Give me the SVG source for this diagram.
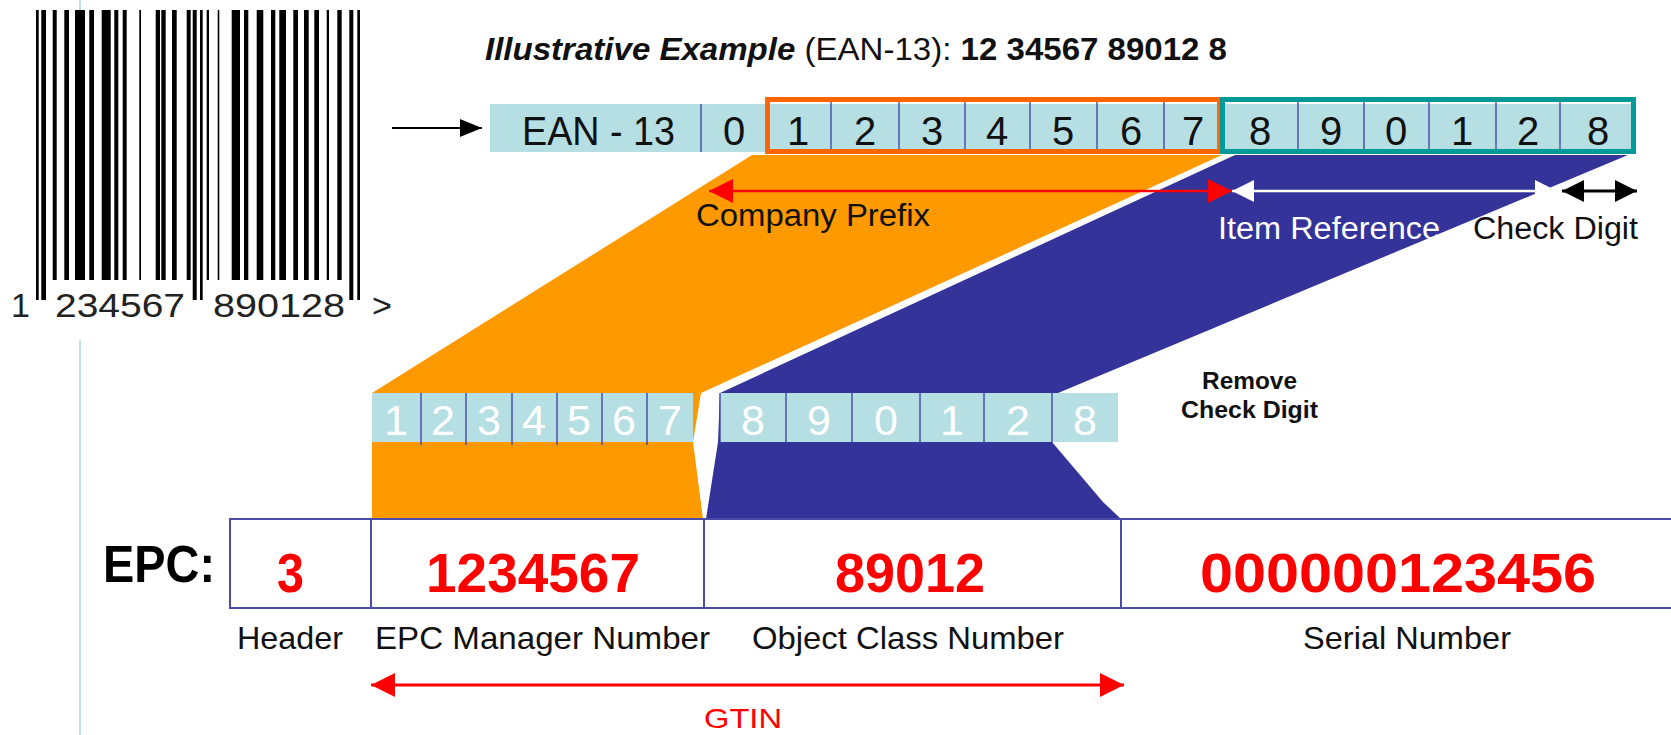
<svg xmlns="http://www.w3.org/2000/svg" width="1671" height="735" viewBox="0 0 1671 735">
<style>
text{font-family:"Liberation Sans",Arial,Helvetica,sans-serif}
.bar{fill:#000}
.cell{fill:#b6dfe3}
.sep{stroke:#3c3ca0;stroke-width:1.3}
.top{font-size:40px;fill:#111;text-anchor:middle}
.low{font-size:43px;fill:#fff;text-anchor:middle}
.red{font-size:55px;font-weight:bold;fill:#ff0000}
.lbl{font-size:32px;fill:#111}
.epc{stroke:#4b4ba8;stroke-width:2;fill:none}
</style>
<defs>
<marker id="hRed" viewBox="0 0 24 24" refX="24" refY="12" markerWidth="24" markerHeight="24" markerUnits="userSpaceOnUse" orient="auto-start-reverse"><path d="M0,0 L24,12 L0,24 Z" fill="#ff0000"/></marker>
<marker id="hWhite" viewBox="0 0 22 22" refX="22" refY="11" markerWidth="22" markerHeight="22" markerUnits="userSpaceOnUse" orient="auto-start-reverse"><path d="M0,0 L22,11 L0,22 Z" fill="#ffffff"/></marker>
<marker id="hBlack" viewBox="0 0 22 22" refX="22" refY="11" markerWidth="22" markerHeight="22" markerUnits="userSpaceOnUse" orient="auto-start-reverse"><path d="M0,0 L22,11 L0,22 Z" fill="#000"/></marker>
<marker id="hBlackS" viewBox="0 0 22 18" refX="22" refY="9" markerWidth="22" markerHeight="18" markerUnits="userSpaceOnUse" orient="auto"><path d="M0,0 L22,9 L0,18 Z" fill="#000"/></marker>
</defs>
<rect width="1671" height="735" fill="#fff"/>
<g id="guide-line" stroke="#a8d8dc" stroke-width="1.5">
<line x1="80" y1="0" x2="80" y2="10"/>
<line x1="80" y1="340" x2="80" y2="735"/>
</g>
<g id="barcode">
<rect class="bar" x="36" y="10" width="2.7" height="290"/>
<rect class="bar" x="41.3" y="10" width="4.7" height="290"/>
<rect class="bar" x="52.7" y="10" width="4" height="270"/>
<rect class="bar" x="64.3" y="10" width="4.7" height="270"/>
<rect class="bar" x="75" y="10" width="10" height="270"/>
<rect class="bar" x="89.3" y="10" width="4.7" height="270"/>
<rect class="bar" x="101.7" y="10" width="9" height="270"/>
<rect class="bar" x="114.3" y="10" width="4" height="270"/>
<rect class="bar" x="122.7" y="10" width="4" height="270"/>
<rect class="bar" x="139.3" y="10" width="1.7" height="270"/>
<rect class="bar" x="155.7" y="10" width="4.3" height="270"/>
<rect class="bar" x="161.3" y="10" width="4.4" height="270"/>
<rect class="bar" x="172" y="10" width="4.7" height="270"/>
<rect class="bar" x="186.7" y="10" width="4" height="270"/>
<rect class="bar" x="192.7" y="10" width="4" height="290"/>
<rect class="bar" x="200" y="10" width="2.7" height="290"/>
<rect class="bar" x="206.7" y="10" width="2.3" height="270"/>
<rect class="bar" x="217.7" y="10" width="1.6" height="270"/>
<rect class="bar" x="231.7" y="10" width="8.3" height="270"/>
<rect class="bar" x="244" y="10" width="4.3" height="270"/>
<rect class="bar" x="256.7" y="10" width="6.6" height="270"/>
<rect class="bar" x="271" y="10" width="4.3" height="270"/>
<rect class="bar" x="279.3" y="10" width="6.7" height="270"/>
<rect class="bar" x="293.3" y="10" width="4.7" height="270"/>
<rect class="bar" x="304" y="10" width="4.7" height="270"/>
<rect class="bar" x="314.3" y="10" width="4.7" height="270"/>
<rect class="bar" x="326.7" y="10" width="2.3" height="270"/>
<rect class="bar" x="337.3" y="10" width="4.4" height="270"/>
<rect class="bar" x="349.3" y="10" width="4" height="290"/>
<rect class="bar" x="357.3" y="10" width="2.7" height="290"/>
<g font-size="34" fill="#222">
<text x="11" y="317">1</text>
<text x="55" y="317" textLength="130" lengthAdjust="spacingAndGlyphs">234567</text>
<text x="213" y="317" textLength="132" lengthAdjust="spacingAndGlyphs">890128</text>
<text x="372" y="317">&gt;</text>
</g>
</g>
<g id="title">
<text x="485" y="60" font-size="31" fill="#111" textLength="742" lengthAdjust="spacingAndGlyphs"><tspan font-weight="bold" font-style="italic">Illustrative Example</tspan> (EAN-13): <tspan font-weight="bold">12 34567 89012 8</tspan></text>
</g>
<g id="mapping-orange">
<polygon points="752,155 1222,155 701,393 693,442 703,519 372,519 372,393" fill="#ff9900"/>
</g>
<g id="mapping-blue">
<polygon points="1235,155 1628,155 1058,393 1052,442 1103,502 1121,519 706,519 718,442 720,393" fill="#333399"/>
</g>
<g id="ean-row">
<rect class="cell" x="490" y="104" width="1146" height="48"/>
<line class="sep" x1="701" y1="104" x2="701" y2="152"/>
<g class="sep">
<line x1="831" y1="102" x2="831" y2="152"/><line x1="899" y1="102" x2="899" y2="152"/><line x1="965" y1="102" x2="965" y2="152"/><line x1="1030" y1="102" x2="1030" y2="152"/><line x1="1097" y1="102" x2="1097" y2="152"/><line x1="1164" y1="102" x2="1164" y2="152"/>
<line x1="1298" y1="102" x2="1298" y2="152"/><line x1="1364" y1="102" x2="1364" y2="152"/><line x1="1429" y1="102" x2="1429" y2="152"/><line x1="1496" y1="102" x2="1496" y2="152"/><line x1="1560" y1="102" x2="1560" y2="152"/>
</g>
<rect x="767.5" y="99.5" width="452" height="52" fill="none" stroke="#ff6600" stroke-width="5"/>
<rect x="1222.5" y="99.5" width="411" height="52" fill="none" stroke="#009999" stroke-width="5"/>
<text x="522" y="145" font-size="40" fill="#111" textLength="153" lengthAdjust="spacingAndGlyphs">EAN - 13</text>
<text class="top" x="734" y="145">0</text>
<text class="top" x="798" y="145">1</text>
<text class="top" x="865" y="145">2</text>
<text class="top" x="932" y="145">3</text>
<text class="top" x="997" y="145">4</text>
<text class="top" x="1063" y="145">5</text>
<text class="top" x="1131" y="145">6</text>
<text class="top" x="1193" y="145">7</text>
<text class="top" x="1260" y="145">8</text>
<text class="top" x="1331" y="145">9</text>
<text class="top" x="1396" y="145">0</text>
<text class="top" x="1462" y="145">1</text>
<text class="top" x="1528" y="145">2</text>
<text class="top" x="1598" y="145">8</text>
</g>
<g id="gtin-row">
<rect class="cell" x="372" y="393" width="321" height="49"/>
<rect class="cell" x="720" y="393" width="398" height="49"/>
<g class="sep">
<line x1="421" y1="393" x2="421" y2="445"/><line x1="466" y1="393" x2="466" y2="445"/><line x1="512" y1="393" x2="512" y2="445"/><line x1="557" y1="393" x2="557" y2="445"/><line x1="602" y1="393" x2="602" y2="445"/><line x1="647" y1="393" x2="647" y2="445"/>
<line x1="720" y1="393" x2="720" y2="445"/><line x1="786" y1="393" x2="786" y2="445"/><line x1="852" y1="393" x2="852" y2="445"/><line x1="920" y1="393" x2="920" y2="445"/><line x1="984" y1="393" x2="984" y2="445"/><line x1="1052" y1="393" x2="1052" y2="445"/>
</g>
<text class="low" x="396" y="435">1</text>
<text class="low" x="443" y="435">2</text>
<text class="low" x="489" y="435">3</text>
<text class="low" x="534" y="435">4</text>
<text class="low" x="579" y="435">5</text>
<text class="low" x="624" y="435">6</text>
<text class="low" x="670" y="435">7</text>
<text class="low" x="753" y="435">8</text>
<text class="low" x="819" y="435">9</text>
<text class="low" x="886" y="435">0</text>
<text class="low" x="952" y="435">1</text>
<text class="low" x="1018" y="435">2</text>
<text class="low" x="1085" y="435">8</text>
</g>
<g id="remove-note">
<text x="1202" y="389" font-size="23" font-weight="bold" fill="#111" textLength="95" lengthAdjust="spacingAndGlyphs">Remove</text>
<text x="1181" y="418" font-size="23" font-weight="bold" fill="#111" textLength="137" lengthAdjust="spacingAndGlyphs">Check Digit</text>
</g>
<g id="epc">
<line class="epc" x1="230" y1="519" x2="1671" y2="519"/>
<line class="epc" x1="230" y1="608" x2="1671" y2="608"/>
<line class="epc" x1="230" y1="518" x2="230" y2="609"/>
<line class="epc" x1="371" y1="519" x2="371" y2="608"/>
<line class="epc" x1="704" y1="519" x2="704" y2="608"/>
<line class="epc" x1="1121" y1="519" x2="1121" y2="608"/>
<text x="103" y="582" font-size="51" font-weight="bold" fill="#000" textLength="112" lengthAdjust="spacingAndGlyphs">EPC:</text>
<text class="red" x="277" y="592" textLength="27" lengthAdjust="spacingAndGlyphs">3</text>
<text class="red" x="426" y="592" textLength="214" lengthAdjust="spacingAndGlyphs">1234567</text>
<text class="red" x="835" y="592" textLength="150" lengthAdjust="spacingAndGlyphs">89012</text>
<text class="red" x="1200" y="592" textLength="396" lengthAdjust="spacingAndGlyphs">000000123456</text>
<text class="lbl" x="237" y="649" textLength="106" lengthAdjust="spacingAndGlyphs">Header</text>
<text class="lbl" x="375" y="649" textLength="335" lengthAdjust="spacingAndGlyphs">EPC Manager Number</text>
<text class="lbl" x="752" y="649" textLength="312" lengthAdjust="spacingAndGlyphs">Object Class Number</text>
<text class="lbl" x="1303" y="649" textLength="208" lengthAdjust="spacingAndGlyphs">Serial Number</text>
</g>
<g id="connectors" fill="none">
<line x1="392" y1="128" x2="482" y2="128" stroke="#000" stroke-width="2" marker-end="url(#hBlackS)"/>
<line x1="709" y1="191" x2="1232" y2="191" stroke="#ff0000" stroke-width="2.5" marker-start="url(#hRed)" marker-end="url(#hRed)"/>
<line x1="1232" y1="191" x2="1557" y2="191" stroke="#ffffff" stroke-width="2.5" marker-start="url(#hWhite)" marker-end="url(#hWhite)"/>
<line x1="1562" y1="191" x2="1637" y2="191" stroke="#000" stroke-width="3" marker-start="url(#hBlack)" marker-end="url(#hBlack)"/>
<line x1="371" y1="685" x2="1124" y2="685" stroke="#ff0000" stroke-width="3" marker-start="url(#hRed)" marker-end="url(#hRed)"/>
</g>
<g id="connector-labels">
<text x="696" y="226" font-size="31" fill="#111" textLength="234" lengthAdjust="spacingAndGlyphs">Company Prefix</text>
<text x="1218" y="239" font-size="31" fill="#fff" textLength="222" lengthAdjust="spacingAndGlyphs">Item Reference</text>
<text x="1473" y="239" font-size="31" fill="#111" textLength="165" lengthAdjust="spacingAndGlyphs">Check Digit</text>
<text x="704" y="728" font-size="28" fill="#ff0000" textLength="78" lengthAdjust="spacingAndGlyphs">GTIN</text>
</g>
</svg>
